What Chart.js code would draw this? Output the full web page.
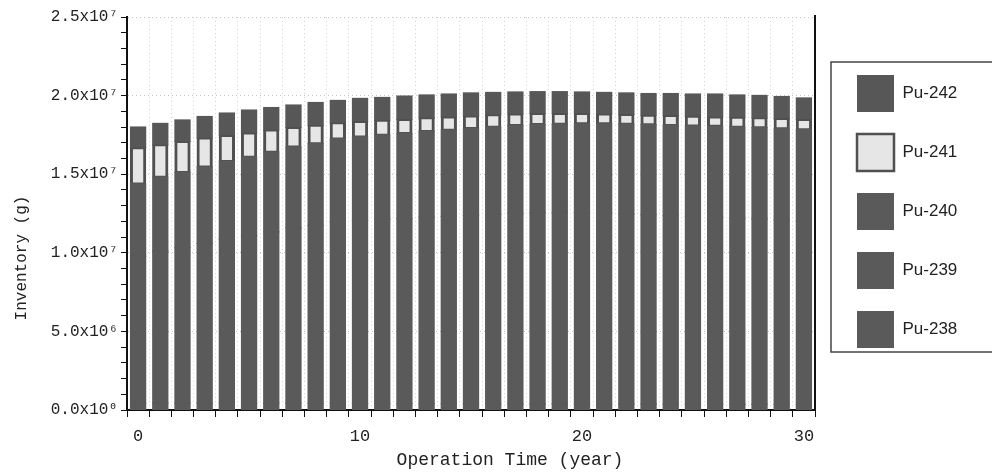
<!DOCTYPE html>
<html>
<head>
<meta charset="utf-8">
<script src="https://cdn.jsdelivr.net/npm/chart.js@4.4.1/dist/chart.umd.min.js"></script>
<style>
  html, body { margin: 0; padding: 0; background: #fff; }
  #wrap { width: 992px; height: 472px; }
</style>
</head>
<body>
<div id="wrap"><canvas id="chart" width="992" height="472"></canvas></div>
<script>
// Plutonium inventory per year, in units of 10^6 g
const years = ['0','1','2','3','4','5','6','7','8','9','10','11','12','13','14','15',
  '16','17','18','19','20','21','22','23','24','25','26','27','28','29','30'];

const pu238 = [0.45,0.45,0.44,0.44,0.44,0.43,0.43,0.43,0.42,0.42,0.42,0.41,0.41,0.41,0.40,0.40,
  0.40,0.39,0.39,0.39,0.38,0.38,0.38,0.37,0.37,0.37,0.36,0.36,0.36,0.35,0.35];
const pu239 = [9.33,9.67,9.89,10.16,10.43,10.65,10.90,11.15,11.32,11.55,11.63,11.71,11.77,11.86,11.92,11.98,
  12.04,12.12,12.15,12.15,12.16,12.14,12.10,12.05,11.99,11.94,11.91,11.85,11.80,11.73,11.66];
const pu240 = [4.60,4.70,4.78,4.86,4.94,5.01,5.08,5.15,5.21,5.27,5.32,5.37,5.41,5.45,5.49,5.53,
  5.56,5.59,5.62,5.65,5.67,5.69,5.71,5.73,5.75,5.76,5.78,5.79,5.80,5.81,5.82];
const pu241 = [2.29,2.04,1.97,1.84,1.65,1.53,1.40,1.24,1.15,1.02,0.98,0.93,0.89,0.86,0.83,0.79,
  0.77,0.73,0.70,0.67,0.65,0.62,0.60,0.60,0.62,0.61,0.59,0.62,0.62,0.64,0.64];
const pu242 = [1.33,1.37,1.37,1.37,1.43,1.46,1.43,1.43,1.46,1.43,1.47,1.46,1.49,1.46,1.46,1.47,
  1.43,1.40,1.39,1.39,1.37,1.37,1.38,1.38,1.40,1.42,1.46,1.42,1.43,1.41,1.38];

// y tick labels every 5 x 10^6 g
const yTickLabels = ['0.0x10⁰', '5.0x10⁶', '1.0x10⁷', '1.5x10⁷', '2.0x10⁷', '2.5x10⁷'];

const monoFont = "'Liberation Mono', 'DejaVu Sans Mono', monospace";
const darkFill = '#5a5a5a';

// extra drawing: right frame line, axis titles and the box around the legend
const framePlugin = {
  id: 'frame',
  beforeLayout(chart) {
    const legend = chart.legend;
    if (legend && !legend._fixedFit) {
      const fit = legend.fit;
      legend.fit = function () { fit.call(this); this.width = 177; };
      legend._fixedFit = true;
    }
  },
  afterLayout(chart) {
    const legend = chart.legend;
    legend.left = chart.chartArea.right + 20;
    legend.top = 53;
  },
  afterDraw(chart) {
    const ctx = chart.ctx;
    const area = chart.chartArea;
    ctx.save();
    ctx.strokeStyle = '#111';
    ctx.lineWidth = 2;
    ctx.beginPath();
    ctx.moveTo(area.right, area.top - 2);
    ctx.lineTo(area.right, area.bottom);
    ctx.stroke();

    // legend frame
    ctx.strokeStyle = '#444';
    ctx.lineWidth = 1.5;
    ctx.strokeRect(831, 62, 175, 290);

    ctx.fillStyle = '#222';
    ctx.font = '18px ' + monoFont;
    ctx.textAlign = 'center';
    ctx.textBaseline = 'middle';
    ctx.fillText('Operation Time (year)', 510, 460);

    ctx.font = '16px ' + monoFont;
    ctx.translate(22, 258);
    ctx.rotate(-Math.PI / 2);
    ctx.fillText('Inventory (g)', 0, 0);
    ctx.restore();
  }
};

const ctx = document.getElementById('chart').getContext('2d');
new Chart(ctx, {
  type: 'bar',
  data: {
    labels: years,
    datasets: [
      { label: 'Pu-238', data: pu238, backgroundColor: darkFill, borderColor: '#3c3c3c', borderWidth: 0 },
      { label: 'Pu-239', data: pu239, backgroundColor: darkFill, borderColor: '#3c3c3c', borderWidth: 0 },
      { label: 'Pu-240', data: pu240, backgroundColor: darkFill, borderColor: '#3c3c3c', borderWidth: 0 },
      { label: 'Pu-241', data: pu241, backgroundColor: '#e6e6e6', borderColor: '#505050',
        borderWidth: { left: 3, right: 3, top: 2, bottom: 2 }, borderSkipped: false },
      { label: 'Pu-242', data: pu242, backgroundColor: '#575757', borderColor: '#3c3c3c', borderWidth: 0 }
    ]
  },
  options: {
    responsive: false,
    animation: false,
    layout: { padding: { top: 17, left: 0, right: 0, bottom: 0 } },
    // small overlap hides the seams between the dark stack segments
    datasets: { bar: { barPercentage: 0.68, categoryPercentage: 1.0, inflateAmount: 0.6 } },
    plugins: {
      tooltip: { enabled: false },
      legend: {
        position: 'right',
        align: 'start',
        reverse: true,
        labels: {
          boxWidth: 37,
          boxHeight: 37,
          padding: 22,
          color: '#222',
          font: { family: "'Liberation Sans', Arial, sans-serif", size: 17 }
        }
      }
    },
    scales: {
      x: {
        stacked: true,
        afterFit: (scale) => { scale.height = 62; },
        grid: {
          offset: true,
          color: '#d2d2d2',
          tickColor: '#111',
          tickLength: 7,
          lineWidth: 1
        },
        border: { color: '#111', width: 2, dash: [1, 3] },
        ticks: {
          autoSkip: false,
          maxRotation: 0,
          padding: 9,
          color: '#222',
          font: { family: monoFont, size: 17 },
          callback: function (value, index) {
            return index % 10 === 0 ? years[index] : '';
          }
        }
      },
      y: {
        stacked: true,
        min: 0,
        max: 25,
        afterFit: (scale) => { scale.width = 127; },
        grid: {
          color: (c) => (c.tick && c.tick.value % 5 === 0) ? '#c4c4c4' : 'rgba(0,0,0,0)',
          tickColor: '#111',
          tickLength: 6,
          lineWidth: 1
        },
        border: { color: '#111', width: 2, dash: [1, 3] },
        ticks: {
          stepSize: 1,
          autoSkip: false,
          padding: 3,
          color: '#222',
          font: { family: monoFont, size: 16 },
          callback: function (value) {
            return value % 5 === 0 ? yTickLabels[value / 5] : '';
          }
        }
      }
    }
  },
  plugins: [framePlugin]
});
</script>
</body>
</html>
